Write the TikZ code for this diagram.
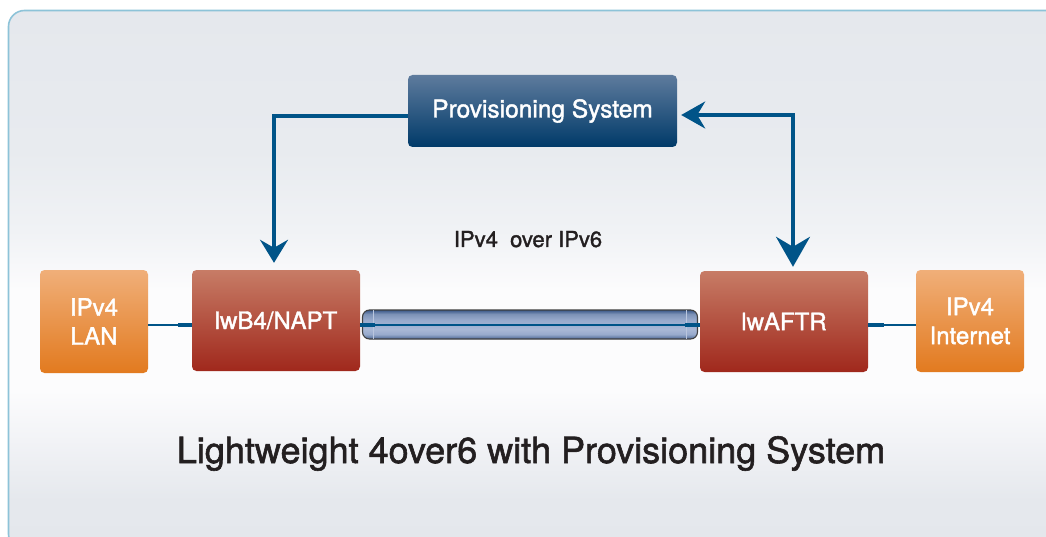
\documentclass[tikz,border=0pt]{standalone}
\usepackage{fontspec}
\setmainfont{TeX Gyre Heros}[FakeBold=1.6]
\usetikzlibrary{arrows.meta,calc}
\definecolor{conn}{HTML}{005488}
\definecolor{frameline}{HTML}{8DC3D8}
\definecolor{bgA}{HTML}{E5E8ED}
\definecolor{bgB}{HTML}{E4E7EC}
\definecolor{bgC}{HTML}{F2F3F6}
\definecolor{bgW}{HTML}{FCFCFD}
\definecolor{bgD}{HTML}{F0F2F5}
\definecolor{bgE}{HTML}{E8EBEF}
\definecolor{tunB}{HTML}{4A6694}
\definecolor{tunL}{HTML}{A9B8D6}
\definecolor{tunM}{HTML}{98AACC}
\definecolor{tunT}{HTML}{3A5888}
\definecolor{titlecol}{HTML}{231F20}
\pgfdeclareverticalshading{bgshade}{100bp}{color(0bp)=(bgB); color(25bp)=(bgB); color(29.6bp)=(bgA); color(35.2bp)=(bgC); color(39.8bp)=(bgW); color(49.1bp)=(bgW); color(54.6bp)=(bgD); color(62bp)=(bgE); color(75bp)=(bgA); color(100bp)=(bgA)}
\pgfdeclareverticalshading{tunshade}{100bp}{color(0bp)=(tunB); color(25bp)=(tunB); color(33bp)=(tunM); color(42bp)=(tunL); color(58bp)=(tunM); color(68bp)=(tunL!60!tunT); color(75bp)=(tunT); color(100bp)=(tunT)}
\tikzset{
  box/.style={rounded corners=4.5pt, text=white, align=center, inner sep=0pt,
    font=\fontsize{24}{29}\selectfont},
  orangebox/.style={box, top color=orange1, middle color=orange2, bottom color=orange3,
    minimum width=108pt, minimum height=103pt},
  redbox/.style={box, top color=red1, middle color=red2, bottom color=red3,
    minimum width=168pt, minimum height=101pt},
  bluebox/.style={box, top color=blue1, middle color=blue2, bottom color=blue3,
    minimum width=269pt, minimum height=72pt, font=\fontsize{24.5}{29}\selectfont},
  connline/.style={draw=conn, line width=3.3pt},
  thinconn/.style={draw=conn, line width=2.2pt},
}
\definecolor{orange1}{HTML}{F0AF79}
\definecolor{orange2}{HTML}{E68A3A}
\definecolor{orange3}{HTML}{E27A1F}
\definecolor{red1}{HTML}{C77C66}
\definecolor{red2}{HTML}{AE4232}
\definecolor{red3}{HTML}{A0281C}
\definecolor{blue1}{HTML}{5E7B9D}
\definecolor{blue2}{HTML}{0F4C7D}
\definecolor{blue3}{HTML}{003A69}
\begin{document}
\begin{tikzpicture}[x=1pt,y=-1pt]
\useasboundingbox (0,0) rectangle (1046,537);
\clip (0,0) rectangle (1046,537);
% frame
\path[draw=frameline, line width=1.6pt, rounded corners=16pt, shading=bgshade]
  (8.5,10.5) rectangle (1075,550);

% nodes
\node[orangebox] (lan) at (94,321.5) {IPv4\\LAN};
\node[redbox] (b4) at (276,320.5) {lwB4/NAPT};
\node[redbox] (aftr) at (784,321.5) {lwAFTR};
\node[orangebox, minimum height=102pt] (inet) at (970,321) {IPv4\\Internet};
\node[bluebox] (prov) at (542.5,111) {Provisioning System};
\node[draw=black!75, line width=1.1pt, rounded corners=7pt, shading=tunshade,
  minimum width=335pt, minimum height=29pt, inner sep=0pt] (tunnel) at (530,324.5) {};

% tunnel details
\draw[tunL!80!white, line width=1pt] ([xshift=12pt,yshift=-1pt]tunnel.north west) -- ([xshift=12pt,yshift=1pt]tunnel.south west);
\draw[tunL!80!white, line width=1pt] ([xshift=-12pt,yshift=-1pt]tunnel.north east) -- ([xshift=-12pt,yshift=1pt]tunnel.south east);
\coordinate (tl) at (375,325);
\coordinate (tr) at (685,325);
\draw[draw=conn, line width=4pt] (b4.east |- tl) -- (tl);
\draw[draw=conn, line width=2.8pt] (tl) -- (tr);
\draw[draw=conn, line width=4pt] (tr) -- (aftr.west |- tr);

% side links
\coordinate (lanj) at (178,325);
\draw[thinconn] (lan.east |- lanj) -- (lanj);
\draw[connline] (lanj) -- (b4.west |- lanj);
\coordinate (inj) at (884,325);
\draw[connline] (aftr.east |- inj) -- (inj);
\draw[thinconn] (inj) -- (inet.west |- inj);

% provisioning arrows
\draw[connline, -{Stealth[length=23pt,width=28pt,inset=8pt]}, shorten >=7pt]
  ([yshift=-5pt]prov.west) -| ([xshift=-2pt]b4.north);
\draw[connline, {Stealth[length=24pt,width=27pt,inset=8pt]}-{Stealth[length=30pt,width=34pt,inset=10pt]},
  shorten <=4pt, shorten >=4pt]
  ([yshift=-4pt]prov.east) -| ([xshift=9pt]aftr.north);

% labels
\node[anchor=base, text=titlecol, font=\fontsize{22}{26}\selectfont, inner sep=0pt] (overlbl) at (528,247) {IPv4\hspace{0.556em}over IPv6};
\node[anchor=base, text=titlecol, font=\fontsize{36}{42}\selectfont, inner sep=0pt] (title) at (531,463) {Lightweight 4over6 with Provisioning System};
\end{tikzpicture}
\end{document}
